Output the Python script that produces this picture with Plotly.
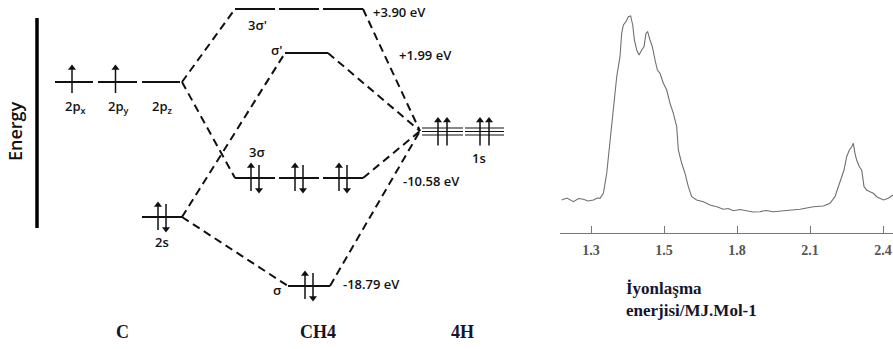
import plotly.graph_objects as go

# ---------------- DATA ----------------
# Molecular-orbital diagram of CH4 (schematic level heights on the diagram scale)
c_orbitals = ["2p<sub>x</sub>", "2p<sub>y</sub>", "2p<sub>z</sub>"]
c_2p_electrons = [1, 1, 0]          # up-spin electrons in each 2p orbital
c_2s_electrons = 2
mo_labels = ["3σ'", "σ'", "3σ", "σ"]
mo_energy_text = ["+3.90 eV", "+1.99 eV", "-10.58 eV", "-18.79 eV"]
mo_degeneracy = [3, 1, 3, 1]
mo_electrons = [0, 0, 2, 2]         # per orbital
h_label = "1s"
h_electrons = [2, 2]                # drawn per H level segment
column_labels = ["C", "CH4", "4H"]
axis_title = "Energy"

# Photoelectron spectrum (position in tick units, relative intensity)
pes_tick_labels = ["1.3", "1.5", "1.8", "2.1", "2.4"]
pes_x = [-0.402, -0.33, -0.242, -0.17, -0.105, -0.04, 0.032, 0.09, 0.123, 0.169, 0.215, 0.260,
         0.306, 0.352, 0.397, 0.420, 0.443, 0.479, 0.511, 0.543, 0.571, 0.594, 0.626,
         0.658, 0.694, 0.726, 0.753, 0.776, 0.808, 0.840, 0.877, 0.909, 0.945, 0.991,
         1.037, 1.082, 1.128, 1.174, 1.196, 1.242, 1.288, 1.333, 1.379, 1.447, 1.539,
         1.630, 1.721, 1.813, 1.88, 1.950, 2.04, 2.132, 2.22, 2.315, 2.40, 2.498, 2.59,
         2.680, 2.863, 3.046, 3.183, 3.274, 3.342, 3.388, 3.434, 3.466, 3.502, 3.539,
         3.571, 3.594, 3.616, 3.639, 3.676, 3.708, 3.740, 3.776, 3.822, 3.868, 3.913,
         3.959, 4.005, 4.073, 4.137]
pes_y = [33, 35, 31.3, 34.5, 33.7, 32, 33, 35, 34.7, 39.7, 59.7, 93,
         123, 156.3, 176.3, 199.7, 208, 211.3, 216.3, 217, 208, 193, 183,
         178, 183, 186.3, 199.7, 201.3, 193, 186.3, 173, 163, 159.7, 149.7,
         143, 129.7, 119.7, 106.3, 83, 69.7, 59.7, 46.3, 36.3, 33, 31.3,
         28, 26.3, 23.7, 24.5, 22.3, 23.5, 22.3, 21, 21.3, 22.5, 21.3, 22,
         23, 23.7, 26.3, 27, 29.7, 36.3, 46.3, 56.3, 63, 76.3, 83,
         86.3, 89.7, 79.7, 73, 66.3, 63, 46.3, 43, 41.3, 39.7, 36.3,
         34.7, 33, 34.7, 38]

# ---------------- GEOMETRY / STYLE (diagram scale, pixel-like units) ----------------
W, H = 893, 349
c_2p_y, c_2s_y = 82, 217
c_2p_x = [(55, 93), (98, 137), (142, 180)]
c_2s_x = (142, 182)
mo_y = [9, 53, 178, 286]
mo_x = [(235, 363), (285, 328), (235, 363), (288, 330)]
h_y = 131.5
h_x = [(422, 463), (465, 504)]
join_c2p = (182, 82)
join_c2s = (182, 217)
join_h = (420, 131)

ink = "#111111"
fig = go.Figure()

arrow_shafts_x, arrow_shafts_y = [], []
heads_up_x, heads_up_y, heads_dn_x, heads_dn_y = [], [], [], []


def hline(x0, x1, y, width=1.8, color=ink):
    fig.add_trace(go.Scatter(x=[x0, x1], y=[y, y], mode="lines",
                             line=dict(color=color, width=width),
                             hoverinfo="skip", showlegend=False))


def dashed(p, q):
    fig.add_trace(go.Scatter(x=[p[0], q[0]], y=[p[1], q[1]], mode="lines",
                             line=dict(color=ink, width=2, dash="8px,5px"),
                             hoverinfo="skip", showlegend=False))


def arrow(x, y_tail, y_head):
    up = y_head < y_tail
    arrow_shafts_x.extend([x, x, None])
    arrow_shafts_y.extend([y_tail, y_head + (3 if up else -3), None])
    if up:
        heads_up_x.append(x); heads_up_y.append(y_head + 3)
    else:
        heads_dn_x.append(x); heads_dn_y.append(y_head - 3)


def electrons(xc, y, n):
    if n == 1:
        arrow(xc, y + 11, y - 17)
    elif n == 2:
        arrow(xc - 4, y + 13, y - 15)
        arrow(xc + 4, y - 13, y + 15)


def split(x0, x1, n, gap=4):
    seg = (x1 - x0 - gap * (n - 1)) / n
    return [(x0 + i * (seg + gap), x0 + i * (seg + gap) + seg) for i in range(n)]


# Energy axis bar
fig.add_trace(go.Scatter(x=[37, 37], y=[18, 228], mode="lines",
                         line=dict(color="#000", width=3.5),
                         hoverinfo="skip", showlegend=False))

# dashed correlation lines
for i, mo in enumerate(mo_x):
    src = join_c2p if mo_degeneracy[i] == 3 else join_c2s
    dashed(src, (mo[0], mo_y[i]))
    dashed((mo[1], mo_y[i]), join_h)

# C levels
for (x0, x1), n in zip(c_2p_x, c_2p_electrons):
    hline(x0, x1, c_2p_y)
    electrons((x0 + x1) / 2 - 2, c_2p_y, n)
hline(c_2s_x[0], c_2s_x[1], c_2s_y)
electrons(162, c_2s_y, c_2s_electrons)

# CH4 levels
for i in range(4):
    for (x0, x1) in split(mo_x[i][0], mo_x[i][1], mo_degeneracy[i]):
        hline(x0, x1, mo_y[i])
        electrons((x0 + x1) / 2, mo_y[i], mo_electrons[i])

# H levels (multiple thin parallel lines)
for (x0, x1), n in zip(h_x, h_electrons):
    for dy in (-3.5, 0, 3.5):
        hline(x0, x1, h_y + dy, width=1.2)
    xc = (x0 + x1) / 2
    arrow(xc - 4.5, h_y + 14, h_y - 14)
    arrow(xc + 4.5, h_y + 14, h_y - 14)

# electron arrows
fig.add_trace(go.Scatter(x=arrow_shafts_x, y=arrow_shafts_y, mode="lines",
                         line=dict(color=ink, width=1.5), hoverinfo="skip",
                         showlegend=False))
fig.add_trace(go.Scatter(x=heads_up_x, y=heads_up_y, mode="markers",
                         marker=dict(symbol="triangle-up", size=7, color=ink,
                                     line=dict(width=0)),
                         hoverinfo="skip", showlegend=False))
fig.add_trace(go.Scatter(x=heads_dn_x, y=heads_dn_y, mode="markers",
                         marker=dict(symbol="triangle-down", size=7, color=ink,
                                     line=dict(width=0)),
                         hoverinfo="skip", showlegend=False))

# ---------------- TEXT ----------------
lab_font = dict(family="Open Sans, Noto Sans, sans-serif", size=13, color=ink, weight=600)
val_font = dict(family="Open Sans, Noto Sans, sans-serif", size=13, color=ink, weight=600)


def txt(x, y, s, font, xanchor="center"):
    fig.add_annotation(x=x, y=y, xref="x", yref="y", text=s, showarrow=False,
                       font=font, xanchor=xanchor, yanchor="middle")


for (x0, x1), s in zip(c_2p_x, c_orbitals):
    txt((x0 + x1) / 2 + 1, 107, s, lab_font)
txt(162, 242, "2s", lab_font)
txt(257, 25, mo_labels[0], lab_font)
txt(284, 50, mo_labels[1], lab_font, xanchor="right")
txt(257, 152, mo_labels[2], lab_font)
txt(277, 290, mo_labels[3], lab_font)
txt(479, 158, h_label, lab_font)
txt(371, 12, mo_energy_text[0], val_font, "left")
txt(397, 55, mo_energy_text[1], val_font, "left")
txt(401, 181, mo_energy_text[2], val_font, "left")
txt(341, 284, mo_energy_text[3], val_font, "left")

fig.add_annotation(x=15, y=131, xref="x", yref="y", text=axis_title, textangle=-90,
                   showarrow=False,
                   font=dict(family="Open Sans, sans-serif", size=18, color=ink, weight=600))

bold_serif = dict(family="Liberation Serif, Times New Roman, serif", size=18, color="#15152e")
for x, s in zip([122, 318, 462], column_labels):
    txt(x, 332, "<b>" + s + "</b>", bold_serif)

label_font = dict(family="Liberation Serif, Times New Roman, serif", size=17, color="#15152e")
fig.add_annotation(x=624, y=288, xref="x", yref="y", text="<b>İyonlaşma</b>",
                   showarrow=False, font=label_font, xanchor="left", yanchor="middle")
fig.add_annotation(x=624, y=310, xref="x", yref="y", text="<b>enerjisi/MJ.Mol-1</b>",
                   showarrow=False, font=label_font, xanchor="left", yanchor="middle")

# ---------------- SPECTRUM ----------------
fig.add_trace(go.Scatter(x=pes_x, y=pes_y, xaxis="x2", yaxis="y2", mode="lines",
                         line=dict(color="#707070", width=1.1),
                         hoverinfo="skip", showlegend=False))

fig.update_layout(
    width=W, height=H, autosize=False,
    margin=dict(l=0, r=0, t=0, b=0),
    paper_bgcolor="white", plot_bgcolor="rgba(0,0,0,0)",
    xaxis=dict(domain=[0, 1], range=[0, W], visible=False, fixedrange=True),
    yaxis=dict(domain=[0, 1], range=[H, 0], visible=False, fixedrange=True),
    xaxis2=dict(domain=[560 / W, 1], range=[-0.425, 4.137], anchor="y2",
                showline=True, linecolor="#777", linewidth=1.2,
                tickvals=list(range(len(pes_tick_labels))), ticktext=pes_tick_labels,
                ticks="inside", ticklen=7, tickcolor="#777", tickwidth=1.2,
                ticklabelstandoff=4,
                showgrid=False, zeroline=False,
                tickfont=dict(family="Liberation Serif, serif", size=14, color="#555",
                              weight="bold")),
    yaxis2=dict(domain=[1 - 233 / H, 1], range=[0, 233], anchor="x2",
                visible=False, showgrid=False, zeroline=False),
)

fig.write_html("out.html", config={"displayModeBar": False},
               post_script="document.body.style.margin='0';")
